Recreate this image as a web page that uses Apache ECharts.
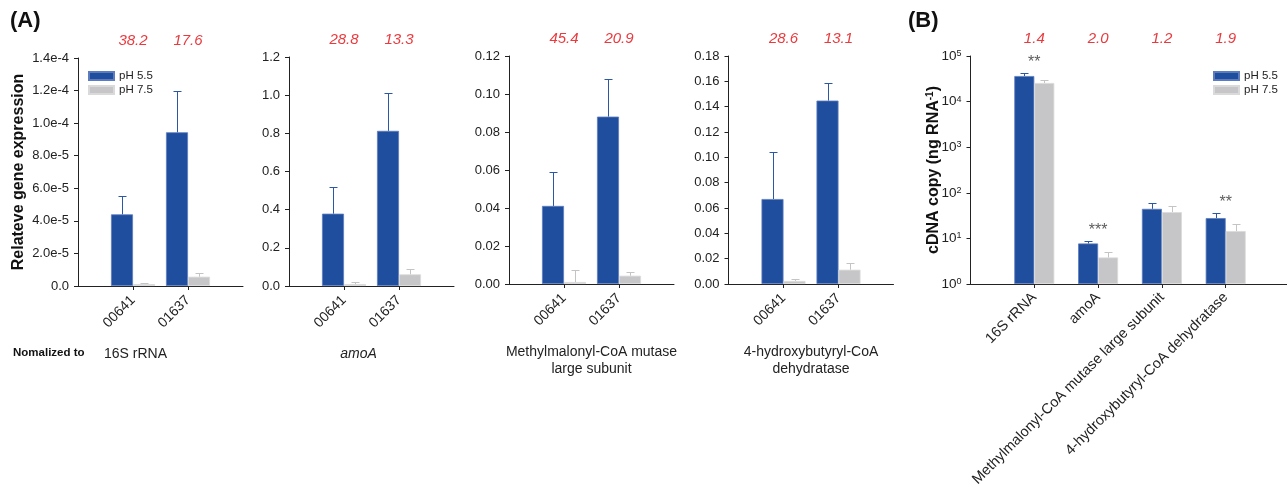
<!DOCTYPE html>
<html><head><meta charset="utf-8">
<script src="https://cdn.jsdelivr.net/npm/echarts@6/dist/echarts.min.js"></script>
<style>html,body{margin:0;padding:0;background:#fff}#c{width:1287px;height:486px}</style>
</head><body><div id="c"></div>
<script>
// ---------- DATA ----------
const genes = ['00641', '01637'];
const normNames = ['16S rRNA', 'amoA', 'Methylmalonyl-CoA mutase\nlarge subunit', '4-hydroxybutyryl-CoA\ndehydratase'];

// Panel A1: normalized to 16S rRNA
const a1_ph55 = [4.40e-5, 9.44e-5];
const a1_ph55_sd = [1.13e-5, 2.53e-5];
const a1_ph75 = [1.2e-6, 5.7e-6];
const a1_ph75_sd = [0.6e-6, 2.5e-6];
const a1_ratio = ['38.2', '17.6'];
// Panel A2: normalized to amoA
const a2_ph55 = [0.379, 0.813];
const a2_ph55_sd = [0.140, 0.198];
const a2_ph75 = [0.010, 0.061];
const a2_ph75_sd = [0.009, 0.030];
const a2_ratio = ['28.8', '13.3'];
// Panel A3: normalized to methylmalonyl-CoA mutase large subunit
const a3_ph55 = [0.0411, 0.0881];
const a3_ph55_sd = [0.0178, 0.0198];
const a3_ph75 = [0.00105, 0.00436];
const a3_ph75_sd = [0.0065, 0.0019];
const a3_ratio = ['45.4', '20.9'];
// Panel A4: normalized to 4-hydroxybutyryl-CoA dehydratase
const a4_ph55 = [0.0671, 0.1448];
const a4_ph55_sd = [0.0373, 0.0142];
const a4_ph75 = [0.0024, 0.0113];
const a4_ph75_sd = [0.0015, 0.0049];
const a4_ratio = ['28.6', '13.1'];
// y-axis ticks of panels A1..A4
const aMax = [1.4e-4, 1.2, 0.12, 0.18];
const aInterval = [2e-5, 0.2, 0.02, 0.02];

// Panel B: cDNA copies
const bGenes = ['16S rRNA', 'amoA', 'Methylmalonyl-CoA mutase large subunit', '4-hydroxybutyryl-CoA dehydratase'];
const b_ph55 = [36400, 7.74, 44.5, 27.9];
const b_ph55_sd = [6600, 1.0, 16.7, 7.3];
const b_ph75 = [25600, 3.82, 37.7, 14.5];
const b_ph75_sd = [3700, 1.1, 14.9, 6.1];
const b_ratio = ['1.4', '2.0', '1.2', '1.9'];
const b_stars = ['**', '***', '', '**'];

// ---------- STYLE ----------
const FONT = 'Liberation Sans, Arial, Helvetica, sans-serif';
const BLUE = '#1f4e9e', GRAY = '#c6c6c8', BLUE_ERR = '#2c56a6', GRAY_ERR = '#c4c4c4';
const RED = '#ea3a3e', INK = '#222';

const panelsA = [
  {p55: a1_ph55, s55: a1_ph55_sd, p75: a1_ph75, s75: a1_ph75_sd, ratio: a1_ratio},
  {p55: a2_ph55, s55: a2_ph55_sd, p75: a2_ph75, s75: a2_ph75_sd, ratio: a2_ratio},
  {p55: a3_ph55, s55: a3_ph55_sd, p75: a3_ph75, s75: a3_ph75_sd, ratio: a3_ratio},
  {p55: a4_ph55, s55: a4_ph55_sd, p75: a4_ph75, s75: a4_ph75_sd, ratio: a4_ratio}
];
const grids = [
  {left: 78, top: 58, width: 165, height: 228, outerBoundsMode: 'none', containLabel: false},
  {left: 289, top: 57, width: 165, height: 229, outerBoundsMode: 'none', containLabel: false},
  {left: 509, top: 56, width: 165, height: 228, outerBoundsMode: 'none', containLabel: false},
  {left: 728.5, top: 56, width: 165, height: 228, outerBoundsMode: 'none', containLabel: false},
  {left: 970.5, top: 56, width: 319, height: 228, outerBoundsMode: 'none', containLabel: false}
];
const yFormat = [
  v => v === 0 ? '0.0' : v.toExponential(1),
  v => v.toFixed(1),
  v => v.toFixed(2),
  v => v.toFixed(2)
];
// shift (px, leftwards) of the "normalized to" captions
const nameShift = [50, 26, 0, 0];

function pad(arr) { return [''].concat(arr, [' ']); }
function tickInner(n) { return (idx) => idx > 0 && idx < n - 1; }

function errRender(offset, color, cap) {
  return function (params, api) {
    const x = api.value(0), lo = api.value(1), hi = api.value(2);
    const p0 = api.coord([x, lo]);
    const p1 = api.coord([x, hi]);
    const cx = Math.round(p0[0] + offset) + 0.5;
    const yt = Math.round(p1[1]) + 0.5;
    return {
      type: 'group', children: [
        {type: 'line', shape: {x1: cx, y1: p0[1], x2: cx, y2: yt}, style: {stroke: color, lineWidth: 1}},
        {type: 'line', shape: {x1: cx - cap, y1: yt, x2: cx + cap, y2: yt}, style: {stroke: color, lineWidth: 1}}
      ]
    };
  };
}

const xAxes = [], yAxes = [], series = [];

function addXAxes(gi, cats, ratios, labelSize, margin, name, italic, shift) {
  const n = cats.length + 2;
  xAxes.push({
    gridIndex: gi, type: 'category', boundaryGap: false, data: pad(cats),
    axisLine: {lineStyle: {color: INK, width: 1}},
    axisTick: {interval: tickInner(n), length: 4, lineStyle: {color: INK}},
    axisLabel: {interval: 0, rotate: 45, fontSize: labelSize, color: INK, margin: margin, fontFamily: FONT},
    name: name, nameLocation: 'middle', nameGap: 60,
    nameTextStyle: {fontSize: 14, color: INK, fontFamily: FONT, fontStyle: italic ? 'italic' : 'normal',
      lineHeight: 17, verticalAlign: 'top', padding: [0, shift || 0, 0, 0]}
  });
  xAxes.push({
    gridIndex: gi, type: 'category', position: 'top', boundaryGap: false, data: pad(ratios),
    axisLine: {show: false}, axisTick: {show: false},
    axisLabel: {interval: 0, color: RED, fontStyle: 'italic', fontSize: 15, margin: 10, fontFamily: FONT}
  });
}

function addSeries(gi, xi, yi, p55, s55, p75, s75, barW) {
  const half = barW / 2;
  series.push({
    name: 'pH 5.5', type: 'bar', xAxisIndex: xi, yAxisIndex: yi, barWidth: barW, barGap: '0%',
    itemStyle: {color: BLUE, borderColor: '#5d7cbd', borderWidth: 0.8},
    data: p55.map((v, j) => [j + 1, v])
  });
  series.push({
    name: 'pH 7.5', type: 'bar', xAxisIndex: xi, yAxisIndex: yi, barWidth: barW, barGap: '0%',
    itemStyle: {color: GRAY, borderColor: '#dadada', borderWidth: 0.8},
    data: p75.map((v, j) => [j + 1, v])
  });
  series.push({
    name: 'err55', type: 'custom', xAxisIndex: xi, yAxisIndex: yi, z: 5,
    renderItem: errRender(-half, BLUE_ERR, 4), encode: {x: 0, y: [1, 2]},
    data: p55.map((v, j) => [j + 1, v, v + s55[j]])
  });
  series.push({
    name: 'err75', type: 'custom', xAxisIndex: xi, yAxisIndex: yi, z: 5,
    renderItem: errRender(half, GRAY_ERR, 4), encode: {x: 0, y: [1, 2]},
    data: p75.map((v, j) => [j + 1, v, v + s75[j]])
  });
}

panelsA.forEach((p, i) => {
  addXAxes(i, genes, p.ratio, 14, 12, normNames[i], i === 1, nameShift[i]);
  yAxes.push({
    gridIndex: i, type: 'value', min: 0, max: aMax[i], interval: aInterval[i],
    axisLine: {show: true, lineStyle: {color: INK, width: 1}},
    axisTick: {show: true, length: 4, lineStyle: {color: INK}},
    splitLine: {show: false},
    axisLabel: {formatter: yFormat[i], fontSize: 13, color: INK, margin: 9, fontFamily: FONT},
    name: i === 0 ? 'Relateve gene expression' : '',
    nameLocation: 'middle', nameGap: 51,
    nameTextStyle: {fontSize: 16, fontWeight: 'bold', color: '#111', fontFamily: FONT}
  });
  addSeries(i, 2 * i, i, p.p55, p.s55, p.p75, p.s75, 22);
});

// Panel B
addXAxes(4, bGenes, b_ratio, 14.5, 11, '', false, 0);
yAxes.push({
  gridIndex: 4, type: 'log', logBase: 10, min: 1, max: 100000,
  axisLine: {show: true, lineStyle: {color: INK, width: 1}},
  axisTick: {show: true, length: 4, lineStyle: {color: INK}},
  splitLine: {show: false}, minorTick: {show: false},
  axisLabel: {
    formatter: v => '10{sup|' + Math.round(Math.log10(v)) + '}',
    fontSize: 13.5, color: INK, margin: 9, fontFamily: FONT,
    rich: {sup: {fontSize: 9, verticalAlign: 'top', color: INK, fontFamily: FONT}}
  },
  name: 'cDNA copy (ng RNA{sup|-1})', nameLocation: 'middle', nameGap: 29, nameMoveOverlap: false,
  nameTextStyle: {
    fontSize: 16, fontWeight: 'bold', color: '#111', fontFamily: FONT,
    rich: {sup: {fontSize: 10, fontWeight: 'bold', verticalAlign: 'top', color: '#111', fontFamily: FONT}}
  }
});
addSeries(4, 8, 4, b_ph55, b_ph55_sd, b_ph75, b_ph75_sd, 20);
series.push({
  name: 'stars', type: 'scatter', xAxisIndex: 8, yAxisIndex: 4, symbolSize: 1,
  itemStyle: {color: 'rgba(0,0,0,0)'}, z: 6,
  label: {show: true, position: 'top', distance: 2, fontSize: 16, color: '#333', fontFamily: FONT,
    formatter: p => b_stars[p.dataIndex]},
  data: b_ph55.map((v, j) => [j + 1, v + b_ph55_sd[j]])
});

const legendBase = {
  orient: 'vertical', itemWidth: 25, itemHeight: 8, itemGap: 2, padding: 0, icon: 'rect',
  data: ['pH 5.5', 'pH 7.5'], selectedMode: false,
  textStyle: {fontSize: 11.5, color: INK, fontFamily: FONT}
};

const option = {
  animation: false,
  backgroundColor: '#fff',
  textStyle: {fontFamily: FONT},
  grid: grids,
  xAxis: xAxes,
  yAxis: yAxes,
  legend: [
    Object.assign({left: 88, top: 70}, legendBase),
    Object.assign({left: 1213, top: 70}, legendBase)
  ],
  graphic: [
    {type: 'text', left: 10, top: 10, style: {text: '(A)', font: 'bold 22px ' + FONT, fill: '#111'}},
    {type: 'text', left: 908, top: 10, style: {text: '(B)', font: 'bold 22px ' + FONT, fill: '#111'}},
    {type: 'text', left: 13, top: 347, style: {text: 'Nomalized to', font: 'bold 11.5px ' + FONT, fill: '#111'}}
  ],
  series: series
};

const chart = echarts.init(document.getElementById('c'), null, {renderer: 'canvas'});
chart.setOption(option);
</script>
</body></html>
